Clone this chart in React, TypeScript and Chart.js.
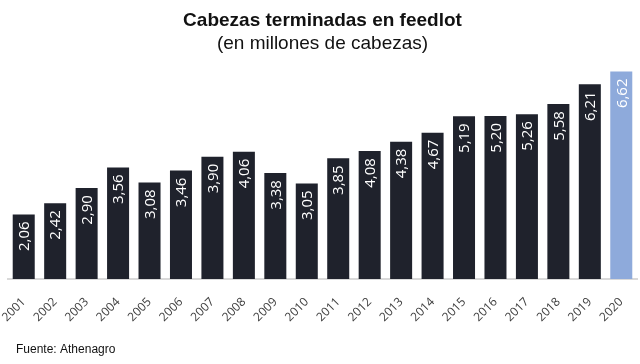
import React, { useEffect, useRef } from "react";
import { Chart, registerables } from "chart.js";

Chart.register(...registerables);

const years = ["2001","2002","2003","2004","2005","2006","2007","2008","2009","2010","2011","2012","2013","2014","2015","2016","2017","2018","2019","2020"];
const heads = [2.06, 2.42, 2.90, 3.56, 3.08, 3.46, 3.90, 4.06, 3.38, 3.05, 3.85, 4.08, 4.38, 4.67, 5.19, 5.20, 5.26, 5.58, 6.21, 6.62];
const titleText = "Cabezas terminadas en feedlot";
const subtitleText = "(en millones de cabezas)";
const sourceText = "Fuente: Athenagro";

const darkBar = "#1f222c";
const lastBar = "#8eaadb";

const labelPlugin = {
  id: "barLabels",
  afterDatasetsDraw(chart: any) {
    const ctx = chart.ctx;
    const meta = chart.getDatasetMeta(0);
    ctx.save();
    ctx.fillStyle = "#ffffff";
    ctx.font = "15px 'Open Sans'";
    ctx.textAlign = "right";
    ctx.textBaseline = "middle";
    meta.data.forEach((bar: any, i: number) => {
      const txt = heads[i].toFixed(2).replace(".", ",");
      ctx.save();
      ctx.translate(bar.x, bar.y + 7);
      ctx.rotate(-Math.PI / 2);
      ctx.fillText(txt, 0, 1);
      ctx.restore();
    });
    ctx.restore();
  },
};

const sourcePlugin = {
  id: "sourceText",
  afterDraw(chart: any) {
    const ctx = chart.ctx;
    ctx.save();
    ctx.fillStyle = "#111111";
    ctx.font = "12px 'Liberation Sans'";
    ctx.textAlign = "left";
    ctx.textBaseline = "middle";
    ctx.fillText(sourceText, 16, 350);
    ctx.restore();
  },
};

export default function App() {
  const ref = useRef<HTMLCanvasElement>(null);
  useEffect(() => {
    document.body.style.margin = "0";
    const chart = new Chart(ref.current!, {
      type: "bar",
      data: {
        labels: years,
        datasets: [
          {
            data: heads,
            backgroundColor: heads.map((_, i) => (i === heads.length - 1 ? lastBar : darkBar)),
            categoryPercentage: 1,
            barPercentage: 0.7,
          },
        ],
      },
      options: {
        animation: false,
        responsive: false,
        maintainAspectRatio: false,
        layout: { padding: { left: 8, right: 3, top: 0, bottom: 35 } },
        plugins: {
          legend: { display: false },
          tooltip: { enabled: false },
          title: {
            display: true,
            text: titleText,
            color: "#111111",
            font: { family: "'Liberation Sans'", size: 19, weight: "bold", lineHeight: 1.2 },
            padding: { top: 9, bottom: 0 },
          },
          subtitle: {
            display: true,
            text: subtitleText,
            color: "#111111",
            font: { family: "'Liberation Sans'", size: 19, weight: "normal", lineHeight: 1.2 },
            padding: { top: 1, bottom: 4 },
          },
        },
        scales: {
          x: {
            grid: { display: false, drawTicks: false },
            border: { display: true, color: "#d9d9d9", width: 2 },
            ticks: {
              color: "#404040",
              font: { family: "'Open Sans'", size: 12 },
              maxRotation: 45,
              minRotation: 45,
              autoSkip: false,
              padding: 16,
            },
            afterFit: (scale: any) => {
              scale.height = 50;
              scale.paddingLeft = 0;
              scale.paddingRight = 0;
            },
          },
          y: {
            display: false,
            min: 0,
            max: 7,
          },
        },
      },
      plugins: [labelPlugin, sourcePlugin],
    });
    return () => chart.destroy();
  }, []);
  return (
    <div style={{ width: 640, height: 364, background: "#ffffff" }}>
      <canvas ref={ref} width={640} height={364} style={{ width: 640, height: 364, display: "block" }} />
    </div>
  );
}
